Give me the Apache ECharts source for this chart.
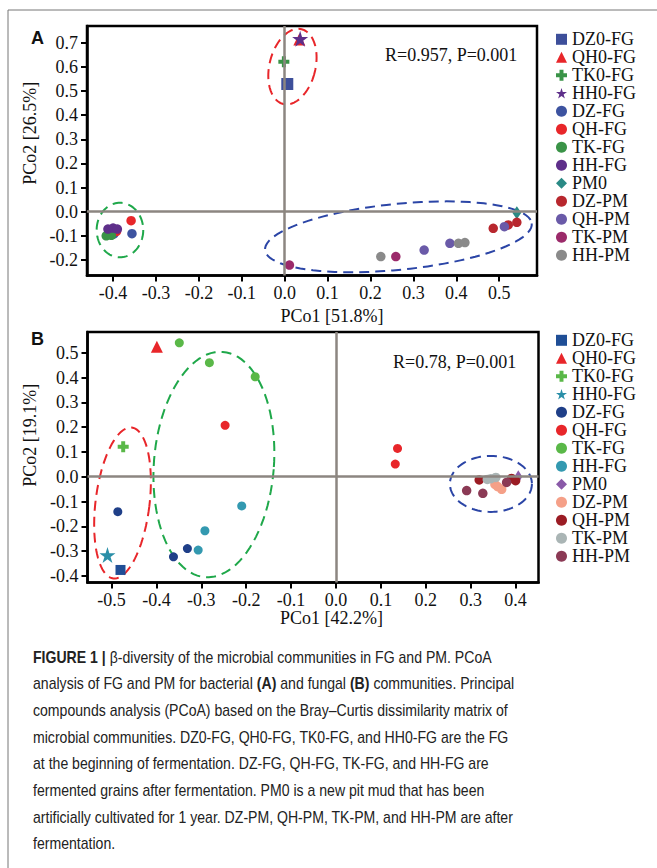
<!DOCTYPE html>
<html><head><meta charset="utf-8">
<script src="https://cdn.jsdelivr.net/npm/echarts@6/dist/echarts.min.js"></script>
<style>html,body{margin:0;padding:0;background:#fff}#c{width:657px;height:868px}</style>
</head><body><div id="c"></div>
<script>
// ---------- categories ----------
const groups = ['DZ0-FG','QH0-FG','TK0-FG','HH0-FG','DZ-FG','QH-FG','TK-FG','HH-FG','PM0','DZ-PM','QH-PM','TK-PM','HH-PM'];

// ---------- tick labels ----------
const ticksAx = [-0.4,-0.3,-0.2,-0.1,0.0,0.1,0.2,0.3,0.4,0.5];
const ticksAy = [-0.2,-0.1,0.0,0.1,0.2,0.3,0.4,0.5,0.6,0.7];
const ticksBx = [-0.5,-0.4,-0.3,-0.2,-0.1,0.0,0.1,0.2,0.3,0.4];
const ticksBy = [-0.4,-0.3,-0.2,-0.1,0.0,0.1,0.2,0.3,0.4,0.5];

// ---------- panel A (bacteria) : [PCo1, PCo2] ----------
const A_DZ0_FG = [[0.006, 0.529]];
const A_QH0_FG = [[0.034, 0.713]];
const A_TK0_FG = [[-0.002, 0.621]];
const A_HH0_FG = [[0.036, 0.716]];
const A_DZ_FG  = [[-0.356,-0.091],[-0.398,-0.092],[-0.405,-0.090]];
const A_QH_FG  = [[-0.358,-0.037],[-0.392,-0.082],[-0.402,-0.078]];
const A_TK_FG  = [[-0.416,-0.100],[-0.404,-0.098],[-0.410,-0.094]];
const A_HH_FG  = [[-0.412,-0.072],[-0.400,-0.068],[-0.390,-0.072]];
const A_PM0    = [[0.541,-0.004]];
const A_DZ_PM  = [[0.486,-0.069],[0.521,-0.055],[0.541,-0.044]];
const A_QH_PM  = [[0.512,-0.062],[0.385,-0.131],[0.325,-0.159]];
const A_TK_PM  = [[0.011,-0.221],[0.259,-0.186]];
const A_HH_PM  = [[0.405,-0.131],[0.420,-0.128],[0.224,-0.186]];

// ---------- panel B (fungi) : [PCo1, PCo2] ----------
const B_DZ0_FG = [[-0.480,-0.376]];
const B_QH0_FG = [[-0.399, 0.524]];
const B_TK0_FG = [[-0.474, 0.121]];
const B_HH0_FG = [[-0.509,-0.316]];
const B_DZ_FG  = [[-0.486,-0.141],[-0.362,-0.323],[-0.331,-0.290]];
const B_QH_FG  = [[-0.247, 0.207],[0.137, 0.114],[0.132, 0.051]];
const B_TK_FG  = [[-0.349, 0.540],[-0.282, 0.460],[-0.180, 0.403]];
const B_HH_FG  = [[-0.210,-0.118],[-0.292,-0.218],[-0.307,-0.296]];
const B_PM0    = [[0.406, 0.000]];
const B_DZ_PM  = [[0.354,-0.031],[0.369,-0.051],[0.360,-0.040]];
const B_QH_PM  = [[0.319,-0.013],[0.391,-0.007],[0.400,-0.016]];
const B_TK_PM  = [[0.337,-0.011],[0.356,-0.003],[0.345,-0.008]];
const B_HH_PM  = [[0.291,-0.056],[0.327,-0.067],[0.380,-0.023]];

// ---------- group ellipses: [centre PCo1, centre PCo2] ----------
const ellA_centres = [[0.018, 0.601],[-0.384,-0.076],[0.265,-0.104]];
const ellB_centres = [[-0.4755,-0.106],[-0.272,0.049],[0.345,-0.029]];

// ---------- styles ----------
const ellA_shape = [[23,38.5,13.8,'#e8262a'],[23.3,27.3,0,'#1fa84a'],[134,33,-5.7,'#2b45a6']];
const ellB_shape = [[27,76,7,'#e8262a'],[60,113,4.5,'#1fa84a'],[41,28,0,'#2b45a6']];

const PLUS = 'path://M3.2,0H6.8V3.2H10V6.8H6.8V10H3.2V6.8H0V3.2H3.2Z';
const STAR = 'path://M50,0L61.2,34.5L97.6,34.5L68.2,55.9L79.4,90.5L50,69.1L20.6,90.5L31.8,55.9L2.4,34.5L38.8,34.5Z';
const symbols = ['rect','triangle',PLUS,STAR,'circle','circle','circle','circle','diamond','circle','circle','circle','circle'];
const sizesA = [12,12,11,16,9.5,9.5,9.5,9.5,[9,13],9.5,9.5,9.5,9.5];
const sizesB = [10,12,11,16,9,9,9,9,[8,13],9.5,9.5,9.5,9.5];
const colorsA = ['#3d4f9a','#e8262a','#3a9347','#5e2f8a','#3d53a0','#e8262a','#3a9347','#5e2f8a','#2a8a85','#b8272e','#6a5aa8','#9b2a6a','#8a8a8a'];
const colorsB = ['#1f4e96','#e8262a','#5ab848','#2a8fa8','#1f3f88','#e8262a','#5ab848','#3399b0','#8a5aa8','#f5a088','#9b1c24','#aab5b5','#8b3a55'];

const dataA = [A_DZ0_FG,A_QH0_FG,A_TK0_FG,A_HH0_FG,A_DZ_FG,A_QH_FG,A_TK_FG,A_HH_FG,A_PM0,A_DZ_PM,A_QH_PM,A_TK_PM,A_HH_PM];
const dataB = [B_DZ0_FG,B_QH0_FG,B_TK0_FG,B_HH0_FG,B_DZ_FG,B_QH_FG,B_TK_FG,B_HH_FG,B_PM0,B_DZ_PM,B_QH_PM,B_TK_PM,B_HH_PM];

const SERIF = 'Liberation Serif';

function xAxisCfg(gi, min, max, ticks, name, gap, padL){
  return {type:'value', gridIndex:gi, min:min, max:max,
    axisLine:{show:true, onZero:false, lineStyle:{color:'#000', width:2.5}},
    axisTick:{show:true, inside:false, length:6, customValues:ticks, lineStyle:{color:'#000', width:2}},
    axisLabel:{show:true, customValues:ticks, formatter:v=>v.toFixed(1), fontFamily:SERIF, fontSize:18, color:'#111', margin:8},
    splitLine:{show:false},
    name:name, nameLocation:'middle', nameGap:gap,
    nameTextStyle:{fontFamily:SERIF, fontSize:18, color:'#111', padding:[0,0,0,padL]}};
}
function yAxisCfg(gi, min, max, ticks, name, gap, padL){
  return {type:'value', gridIndex:gi, min:min, max:max,
    axisLine:{show:true, onZero:false, lineStyle:{color:'#000', width:2.5}},
    axisTick:{show:true, inside:false, length:6, customValues:ticks, lineStyle:{color:'#000', width:2}},
    axisLabel:{show:true, customValues:ticks, formatter:v=>v.toFixed(1), fontFamily:SERIF, fontSize:18, color:'#111', margin:9},
    splitLine:{show:false},
    name:name, nameLocation:'middle', nameGap:gap, nameRotate:90,
    nameTextStyle:{fontFamily:SERIF, fontSize:18, color:'#111', padding:[0,0,0,padL]}};
}

function ellipseSeries(gi, centres, shapes){
  return {type:'custom', xAxisIndex:gi, yAxisIndex:gi, z:1, silent:true, clip:false,
    encode:{x:0, y:1},
    data: centres.map((c,i)=>({value:[c[0],c[1],i]})),
    renderItem:function(params, api){
      const p = api.coord([api.value(0), api.value(1)]);
      const s = shapes[api.value(2)];
      const rx=s[0], ry=s[1], a=s[2]*Math.PI/180;
      const pts=[];
      for(let k=0;k<=96;k++){
        const t=k/96*2*Math.PI;
        const ex=rx*Math.cos(t), ey=ry*Math.sin(t);
        pts.push([p[0]+ex*Math.cos(a)-ey*Math.sin(a), p[1]+ex*Math.sin(a)+ey*Math.cos(a)]);
      }
      return {type:'polyline', shape:{points:pts}, style:{fill:null, stroke:s[3], lineWidth:2, lineDash:[10,6]}};
    },
    markLine:{silent:true, symbol:['none','none'], label:{show:false},
      lineStyle:{color:'#8c8681', width:2.5, type:'solid'},
      data:[{xAxis:0},{yAxis:0}]}
  };
}

const series = [ellipseSeries(0, ellA_centres, ellA_shape), ellipseSeries(1, ellB_centres, ellB_shape)];
groups.forEach((g,i)=>{
  series.push({type:'scatter', name:g, xAxisIndex:0, yAxisIndex:0, z:3, symbol:symbols[i], symbolSize:sizesA[i],
    itemStyle:{color:colorsA[i], opacity:1}, data:dataA[i]});
});
groups.forEach((g,i)=>{
  series.push({type:'scatter', name:g, xAxisIndex:1, yAxisIndex:1, z:3, symbol:symbols[i], symbolSize:sizesB[i],
    itemStyle:{color:colorsB[i], opacity:1}, data:dataB[i]});
});

const legendBase = {orient:'vertical', left:556, padding:0, itemWidth:11, itemHeight:11, itemGap:0,
  textStyle:{fontFamily:SERIF, fontSize:18, color:'#111', lineHeight:16}, selectedMode:false};

const caption = [
  '{b|FIGURE 1 |} β-diversity of the microbial communities in FG and PM. PCoA',
  'analysis of FG and PM for bacterial {b|(A)} and fungal {b|(B)} communities. Principal',
  'compounds analysis (PCoA) based on the Bray–Curtis dissimilarity matrix of',
  'microbial communities. DZ0-FG, QH0-FG, TK0-FG, and HH0-FG are the FG',
  'at the beginning of fermentation. DZ-FG, QH-FG, TK-FG, and HH-FG are',
  'fermented grains after fermentation. PM0 is a new pit mud that has been',
  'artificially cultivated for 1 year. DZ-PM, QH-PM, TK-PM, and HH-PM are after',
  'fermentation.'
];
const CAP_FONT = '"Liberation Sans", sans-serif';

const graphics = [
  {type:'rect', shape:{x:8, y:10, width:700, height:900}, style:{fill:null, stroke:'#777', lineWidth:1}, silent:true},
  {type:'text', x:31, y:37.5, style:{text:'A', fontFamily:'Liberation Sans', fontWeight:'bold', fontSize:18, fill:'#111', verticalAlign:'middle'}},
  {type:'text', x:31, y:339, style:{text:'B', fontFamily:'Liberation Sans', fontWeight:'bold', fontSize:18, fill:'#111', verticalAlign:'middle'}},
  {type:'text', x:385, y:55, style:{text:'R=0.957, P=0.001', fontFamily:SERIF, fontSize:18, fill:'#111', verticalAlign:'middle'}},
  {type:'text', x:393, y:361.7, style:{text:'R=0.78, P=0.001', fontFamily:SERIF, fontSize:18, fill:'#111', verticalAlign:'middle'}}
];
caption.forEach((line,i)=>{
  graphics.push({type:'text', x:33, y:656.7+i*26.67, scaleX:0.88, style:{text:line, fontFamily:CAP_FONT, fontSize:16, fill:'#222', verticalAlign:'middle',
    rich:{b:{fontFamily:CAP_FONT, fontSize:16, fontWeight:'bold', fill:'#222'}}}});
});

const option = {
  animation:false,
  backgroundColor:'#fff',
  grid:[
    {left:87, top:26, width:450, height:249.5, show:true, borderColor:'#000', borderWidth:2.5, containLabel:false},
    {left:87.5, top:332, width:451, height:250.5, show:true, borderColor:'#000', borderWidth:2.5, containLabel:false}
  ],
  xAxis:[
    xAxisCfg(0, -0.4608, 0.588, ticksAx, 'PCo1 [51.8%]', 31.5, 40),
    xAxisCfg(1, -0.5535, 0.451, ticksBx, 'PCo1 [42.2%]', 26.5, 37)
  ],
  yAxis:[
    yAxisCfg(0, -0.2643, 0.7693, ticksAy, 'PCo2 [26.5%]', 41, 35),
    yAxisCfg(1, -0.4266, 0.5835, ticksBy, 'PCo2 [19.1%]', 38.5, 44)
  ],
  legend:[
    Object.assign({}, legendBase, {top:30.3, data:groups.map(g=>({name:g}))}),
    Object.assign({}, legendBase, {top:331.3, data:groups.map((g,i)=>({name:g, itemStyle:{color:colorsB[i]}}))})
  ],
  graphic:graphics,
  series:series
};
const chart = echarts.init(document.getElementById('c'), null, {renderer:'svg'});
chart.setOption(option);
</script></body></html>
